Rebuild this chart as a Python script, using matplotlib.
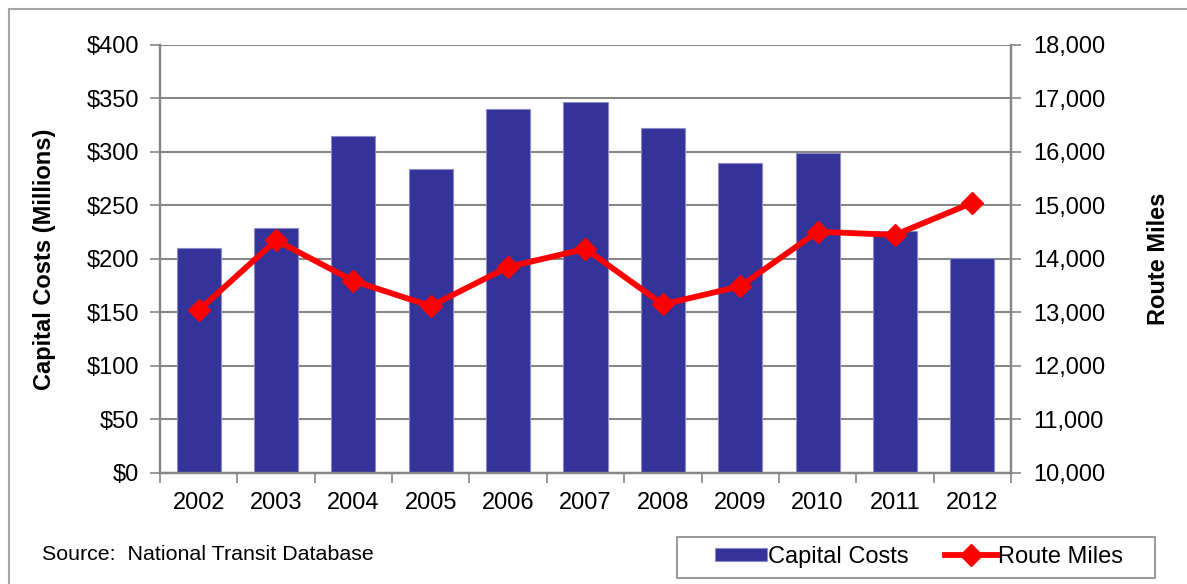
import numpy as np
import matplotlib
matplotlib.use("Agg")
import matplotlib.pyplot as plt
from matplotlib.patches import Rectangle
from matplotlib.ticker import FuncFormatter, FixedLocator

plt.rcParams['font.family'] = ['Liberation Sans', 'DejaVu Sans']

# Datos
anios = ['2002', '2003', '2004', '2005', '2006', '2007', '2008', '2009', '2010', '2011', '2012']
costos_capital = [210, 229, 315, 284, 340, 347, 322, 290, 299, 226, 201]
millas_ruta = [13040, 14350, 13590, 13120, 13850, 14190, 13150, 13490, 14510, 14450, 15050]

azul = '#333399'
rojo = '#ff0000'
gris = '#868686'

fig = plt.figure(figsize=(11.87, 5.84), dpi=100)
ax = fig.add_axes([0.1348, 0.1901, 0.7169, 0.7329])
ax2 = ax.twinx()

x = np.arange(len(anios))
barras = ax.bar(x, costos_capital, width=0.57, color=azul, edgecolor='#8c8cc6', linewidth=0.8,
                zorder=2, label='Capital Costs')
linea, = ax2.plot(x, millas_ruta, color=rojo, linewidth=4.2, marker='D', markersize=11,
                  zorder=3, label='Route Miles')

ax.set_xlim(-0.5, len(anios) - 0.5)
ax.set_ylim(0, 400)
ax2.set_ylim(10000, 18000)
ax.set_yticks(np.arange(0, 401, 50))
ax2.set_yticks(np.arange(10000, 18001, 1000))
ax.yaxis.set_major_formatter(FuncFormatter(lambda v, p: f'${v:,.0f}'))
ax2.yaxis.set_major_formatter(FuncFormatter(lambda v, p: f'{v:,.0f}'))

# Cuadricula horizontal
ax.yaxis.grid(True, color=gris, linewidth=1.5, zorder=0)
ax.set_axisbelow(True)

# Ticks del eje x entre categorias
ax.set_xticks(x)
ax.set_xticklabels(anios)
ax.xaxis.set_minor_locator(FixedLocator(np.arange(-0.5, len(anios), 1)))
ax.tick_params(axis='x', which='major', length=0, pad=14, labelsize=17)
ax.tick_params(axis='x', which='minor', length=7, color=gris, width=1.2)
ax.tick_params(axis='y', length=7, color=gris, width=1.2, pad=8, labelsize=17)
ax2.tick_params(axis='y', length=7, color=gris, width=1.2, pad=9, labelsize=17)

for a in (ax, ax2):
    for s in a.spines.values():
        s.set_color(gris)
        s.set_linewidth(1.6)
ax.spines['top'].set_visible(False)
ax2.spines['top'].set_visible(False)

ax.set_ylabel('Capital Costs (Millions)', fontsize=17, fontweight='bold', labelpad=22)
ax2.set_ylabel('Route Miles', fontsize=17, fontweight='bold', labelpad=30)

fig.text(42 / 1187, 1 - 554 / 584, 'Source:  National Transit Database', fontsize=15.4,
         va='center', ha='left')

# Leyenda sin marco propio; el recuadro se dibuja aparte
leg = fig.legend(handles=[barras, linea], loc='center', ncol=2,
                 bbox_to_anchor=(919 / 1187, 1 - 557 / 584), fontsize=17,
                 frameon=False, handlelength=2.2, handleheight=0.5,
                 handletextpad=0.05, columnspacing=1.55)
fig.patches.append(Rectangle((677 / 1187, 1 - 578 / 584), 478 / 1187, 41 / 584,
                             transform=fig.transFigure, fill=False,
                             edgecolor=gris, linewidth=1.2))

# Borde exterior del grafico
fig.patches.append(Rectangle((9 / 1187, -0.05), 1.2, 1 - 9 / 584 + 0.05, transform=fig.transFigure,
                             fill=False, edgecolor='#a6a6a6', linewidth=1.5))

fig.savefig('out.png', dpi=100)
